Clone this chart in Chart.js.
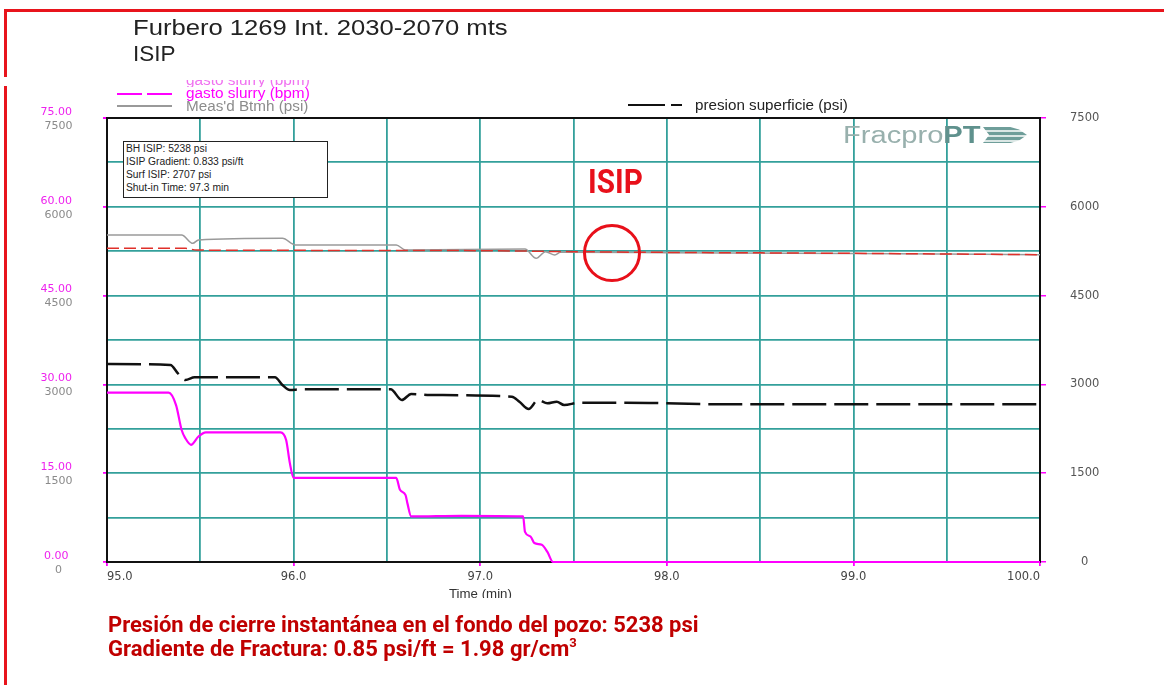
<!DOCTYPE html>
<html>
<head>
<meta charset="utf-8">
<title>Furbero 1269 ISIP</title>
<script src="https://cdn.jsdelivr.net/npm/chart.js@4.4.0/dist/chart.umd.min.js"></script>
<style>
  body { margin: 0; background: #fff; }
  #wrap { position: relative; width: 1164px; height: 685px; overflow: hidden; font-family: 'Liberation Sans', Arial, sans-serif; }
  #chart { position: absolute; left: 0; top: 0; }
  .t { position: absolute; white-space: nowrap; transform-origin: 0 50%; }
  .bar { position: absolute; }
  .clip { position: absolute; overflow: hidden; }
  #info { position: absolute; left: 123px; top: 141px; width: 205px; height: 57px; box-sizing: border-box;
          border: 1.5px solid #222; background: #fff; padding: 0 2px; font-size: 10px; line-height: 13px; color: #222; }
  #info div { height: 13px; white-space: nowrap; }
  #info span { display: inline-block; transform-origin: 0 50%; }
  .red { color: #c00000; font-weight: bold; font-family: 'Liberation Sans Narrow', 'Roboto', 'Liberation Sans', sans-serif; font-size: 22px; line-height: 24px; }
  #circle { position: absolute; left: 583px; top: 224px; width: 58px; height: 58px; box-sizing: border-box;
            border: 3px solid #e8101a; border-radius: 50%; }
  #arrow { position: absolute; left: 983px; top: 127px; width: 44px; height: 16px;
           background: repeating-linear-gradient(to bottom, #6f9e9a 0 3px, #dbe7e5 3px 5px);
           clip-path: polygon(0 0, 62% 0, 82% 15%, 100% 50%, 82% 85%, 62% 100%, 0 100%, 14% 50%); }
</style>
</head>
<body>
<div id="wrap">
  <canvas id="chart" width="1164" height="685"></canvas>

  <!-- red frame of the slide -->
  <div class="bar" style="left:5px;top:9px;width:1159px;height:2.5px;background:#e8141c"></div>
  <div class="bar" style="left:4px;top:9px;width:3px;height:68px;background:#e8141c"></div>
  <div class="bar" style="left:4px;top:86px;width:3px;height:599px;background:#e8141c"></div>

  <div class="t" id="title1" style="left:133px;top:15px;font-size:22px;line-height:26px;color:#222">Furbero 1269 Int. 2030-2070 mts</div>
  <div class="t" id="title2" style="left:133px;top:41px;font-size:22px;line-height:26px;color:#222">ISIP</div>

  <!-- legend -->
  <div class="clip" style="left:186px;top:80px;width:140px;height:7px">
    <div class="t" id="ghost" style="left:0;top:-8px;font-size:14px;line-height:16px;color:#f070f0">gasto slurry (bpm)</div>
  </div>
  <div class="bar" style="left:117px;top:93px;width:25px;height:2px;background:#f0f"></div>
  <div class="bar" style="left:147px;top:93px;width:25px;height:2px;background:#f0f"></div>
  <div class="t" id="leg1" style="left:186px;top:85px;font-size:14px;line-height:16px;color:#f0f">gasto slurry (bpm)</div>
  <div class="bar" style="left:117px;top:105px;width:55px;height:1.5px;background:#999"></div>
  <div class="t" id="leg2" style="left:186px;top:98px;font-size:14px;line-height:16px;color:#8c8c8c">Meas'd Btmh (psi)</div>
  <div class="bar" style="left:628px;top:104px;width:37px;height:2px;background:#111"></div>
  <div class="bar" style="left:671px;top:104px;width:11px;height:2px;background:#111"></div>
  <div class="t" id="leg3" style="left:695px;top:97px;font-size:14px;line-height:16px;color:#222">presion superficie (psi)</div>

  <div id="info">
    <div><span>BH ISIP: 5238 psi</span></div>
    <div><span>ISIP Gradient: 0.833 psi/ft</span></div>
    <div><span>Surf ISIP: 2707 psi</span></div>
    <div><span>Shut-in Time: 97.3 min</span></div>
  </div>

  <div class="t" id="logo" style="left:843px;top:122px;font-size:23px;line-height:26px"><span style="color:#98b0ad">Fracpro</span><b style="color:#5f918d">PT</b></div>
  <div id="arrow"></div>

  <div class="t red" id="isip" style="left:588px;top:162px;font-size:34px;line-height:38px;color:#e8101a">ISIP</div>
  <div id="circle"></div>

  <div class="clip" style="left:445px;top:587px;width:90px;height:11px">
    <div class="t" id="xtitle" style="left:4px;top:0;font-size:12px;line-height:14px;color:#333">Time (min)</div>
  </div>

  <div class="t red" id="note1" style="left:108px;top:613px">Presión de cierre instantánea en el fondo del pozo: 5238 psi</div>
  <div class="t red" id="note2" style="left:108px;top:637px">Gradiente de Fractura: 0.85 psi/ft = 1.98 gr/cm<sup style="font-size:13px;line-height:0;vertical-align:9px">3</sup></div>
</div>

<script>
// gasto slurry (bpm)
const tSlurry = [95.0, 95.33, 95.37, 95.40, 95.42, 95.45, 95.49, 95.53, 95.93, 95.96, 95.98, 96.0, 96.55, 96.57, 96.60, 96.61, 96.63, 96.9, 97.23, 97.24, 97.27, 97.29, 97.33, 97.36, 97.39, 100.0];
const slurryBpm = [28.6, 28.6, 26.5, 22.3, 20.9, 19.8, 21.2, 21.9, 21.9, 20.6, 16.7, 14.2, 14.2, 12.2, 11.3, 9.9, 7.7, 7.8, 7.7, 5.1, 4.3, 3.2, 2.9, 1.7, 0, 0];

// Meas'd Btmh (psi)
const tBtmh = [95.0, 95.40, 95.46, 95.49, 95.94, 96.01, 96.55, 96.60, 97.24, 97.30, 97.35, 97.40, 97.43, 98.0, 99.0, 100.0];
const btmhPsi = [5524, 5524, 5383, 5439, 5467, 5355, 5355, 5270, 5287, 5130, 5242, 5186, 5231, 5225, 5210, 5191];

// red ISIP line
const tIsip = [95.0, 95.42, 95.48, 96.0, 97.0, 97.5, 98.0, 99.0, 100.0];
const isipPsi = [5298, 5298, 5270, 5264, 5259, 5242, 5230, 5214, 5191];

// presion superficie (psi)
const tSurf = [95.0, 95.34, 95.38, 95.42, 95.47, 95.90, 95.94, 95.98, 96.04, 96.52, 96.58, 96.63, 96.73, 97.17, 97.21, 97.26, 97.31, 97.36, 97.41, 97.45, 97.53, 97.78, 98.33, 100.0];
const surfPsi = [3345, 3328, 3187, 3074, 3120, 3120, 2990, 2905, 2917, 2917, 2737, 2838, 2821, 2793, 2708, 2585, 2737, 2681, 2708, 2652, 2691, 2691, 2663, 2663];

// axis ticks
const timeTicks = [95, 96, 97, 98, 99, 100];
const psiTicks = [0, 1500, 3000, 4500, 6000, 7500];
const bpmTicks = [0, 15, 30, 45, 60, 75];

const teal = '#33a09b';
const tickFont = { family: 'DejaVu Sans', size: 11 };

function pts(xs, ys) {
    return xs.map((x, i) => ({ x: x, y: ys[i] }));
}
function isInt(v) {
    return Math.abs(v - Math.round(v)) < 1e-6;
}

const config = {
    type: 'line',
    data: {
        datasets: [
            {
                label: 'gasto slurry (bpm)',
                data: pts(tSlurry, slurryBpm),
                yAxisID: 'yb',
                borderColor: '#f0f',
                borderWidth: 2.2,
                clip: 3
            },
            {
                label: 'ISIP',
                data: pts(tIsip, isipPsi),
                yAxisID: 'y',
                borderColor: '#e0302a',
                borderWidth: 1.5,
                borderDash: [12, 5]
            },
            {
                label: "Meas'd Btmh (psi)",
                data: pts(tBtmh, btmhPsi),
                yAxisID: 'y',
                borderColor: '#9a9a9a',
                borderWidth: 1.5
            },
            {
                label: 'presion superficie (psi)',
                data: pts(tSurf, surfPsi),
                yAxisID: 'yR',
                borderColor: '#111',
                borderWidth: 2.5,
                borderDash: [34, 8]
            }
        ]
    },
    options: {
        responsive: false,
        animation: false,
        elements: { point: { radius: 0 }, line: { cubicInterpolationMode: 'monotone' } },
        layout: { padding: { left: 20, right: 44, top: 118, bottom: 93 } },
        plugins: { legend: { display: false }, tooltip: { enabled: false }, title: { display: false } },
        scales: {
            x: {
                type: 'linear',
                min: timeTicks[0],
                max: timeTicks[timeTicks.length - 1],
                ticks: {
                    stepSize: 0.5,
                    autoSkip: false,
                    maxRotation: 0,
                    align: 'inner',
                    padding: 4,
                    color: '#444',
                    font: { family: 'DejaVu Sans', size: 11.5 },
                    callback: v => (isInt(v) && timeTicks.includes(Math.round(v))) ? Number(v).toFixed(1) : ''
                },
                grid: {
                    color: c => (c.tick && (c.tick.value === 95 || c.tick.value === 100)) ? '#111' : teal,
                    lineWidth: 1.8,
                    tickLength: 4,
                    tickColor: c => (c.tick && isInt(c.tick.value)) ? '#f0f' : 'rgba(0,0,0,0)'
                },
                border: { color: '#111', width: 2 },
                afterFit: s => { s.height = 30; }
            },
            y: {
                position: 'left',
                min: psiTicks[0],
                max: psiTicks[psiTicks.length - 1],
                ticks: {
                    stepSize: 750,
                    color: '#8a8a8a',
                    crossAlign: 'center',
                    padding: 30.5,
                    labelOffset: 8,
                    font: tickFont,
                    callback: v => psiTicks.includes(v) ? String(v) : ''
                },
                grid: {
                    color: c => (c.tick && c.tick.value === 7500) ? '#111' : teal,
                    lineWidth: c => (c.tick && c.tick.value === 7500) ? 2 : 1.8,
                    tickLength: 4,
                    tickColor: c => (c.tick && psiTicks.includes(c.tick.value)) ? '#f0f' : 'rgba(0,0,0,0)'
                },
                border: { color: '#111', width: 2 },
                afterFit: s => { s.width = 87; }
            },
            yb: {
                position: 'left',
                weight: 1,
                min: bpmTicks[0],
                max: bpmTicks[bpmTicks.length - 1],
                ticks: {
                    stepSize: 15,
                    color: '#ee22ee',
                    mirror: true,
                    crossAlign: 'center',
                    padding: 20.5,
                    labelOffset: -6,
                    font: tickFont,
                    callback: v => Number(v).toFixed(2)
                },
                grid: { display: false, drawTicks: false },
                border: { display: false },
                afterFit: s => { s.width = 0; }
            },
            yR: {
                position: 'right',
                min: psiTicks[0],
                max: psiTicks[psiTicks.length - 1],
                ticks: {
                    stepSize: 1500,
                    color: '#555',
                    crossAlign: 'center',
                    padding: 24,
                    font: { family: 'DejaVu Sans', size: 11.5 },
                    callback: v => String(v)
                },
                grid: { display: true, drawOnChartArea: false, tickLength: 6, tickColor: '#f0f', lineWidth: 1.5 },
                border: { color: '#111', width: 2 },
                afterFit: s => { s.width = 80; }
            }
        }
    }
};

const ctx = document.getElementById('chart').getContext('2d');
const isipChart = new Chart(ctx, config);

// stretch the overlay texts to the widths they have in the slide
function fitEl(el, w) {
    el.style.transform = 'scaleX(' + (w / el.offsetWidth) + ')';
}
function fitWidth(id, w) {
    fitEl(document.getElementById(id), w);
}
fitWidth('title1', 375);
fitWidth('title2', 43);
fitWidth('ghost', 124);
fitWidth('leg1', 124);
fitWidth('leg2', 122);
fitWidth('leg3', 153);
fitWidth('logo', 138);
fitWidth('isip', 55);
fitWidth('xtitle', 63);
fitWidth('note1', 591);
fitWidth('note2', 469);
const infoWidths = [81, 117, 85, 103];
document.querySelectorAll('#info span').forEach((s, i) => fitEl(s, infoWidths[i]));
</script>
</body>
</html>
